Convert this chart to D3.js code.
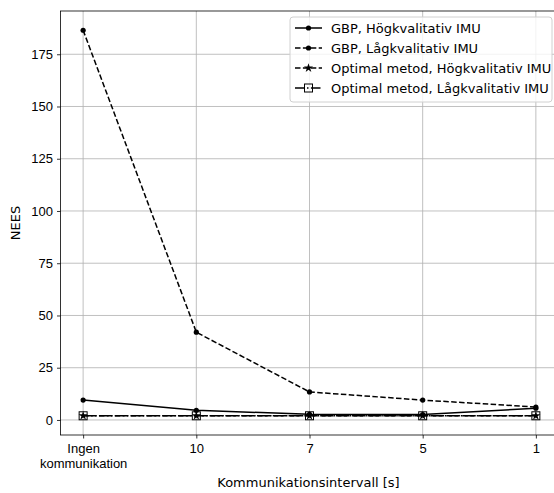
<!DOCTYPE html>
<html>
<head>
  <meta charset="utf-8">
  <title>NEES vs kommunikationsintervall</title>
  <style>
    body { margin: 0; background: #fff; }
    svg { display: block; font-family: "DejaVu Sans", sans-serif; }
    .grid line { stroke: #b0b0b0; stroke-width: 0.8px; }
    .tick text { font-size: 13px; fill: #000; }
  </style>
</head>
<body>
  <div id="chart"></div>

  <script src="https://d3js.org/d3.v7.min.js"></script>
  <script>
    // Data
    const categories = ["Ingen\nkommunikation", "10", "7", "5", "1"];
    const gbpHog = [9.5, 4.6, 2.7, 2.6, 5.6];
    const gbpLag = [186.5, 42, 13.4, 9.5, 6.2];
    const optHog = [2.0, 2.0, 2.0, 2.0, 2.0];
    const optLag = [2.0, 2.0, 2.0, 2.0, 2.0];
    const yTicks = [0, 25, 50, 75, 100, 125, 150, 175];

    const series = [
      { name: "GBP, Högkvalitativ IMU", values: gbpHog, dash: null, marker: "dot" },
      { name: "GBP, Lågkvalitativ IMU", values: gbpLag, dash: "5.5,2.4", marker: "dot" },
      { name: "Optimal metod, Högkvalitativ IMU", values: optHog, dash: "5.5,2.4", marker: "star" },
      { name: "Optimal metod, Lågkvalitativ IMU", values: optLag, dash: "9.6,2.4,1.5,2.4", marker: "square" }
    ];

    const width = 554, height = 493;
    const plot = { left: 60.5, right: 558.5, top: 11, bottom: 435 };

    const svg = d3.select("#chart").append("svg")
      .attr("width", width).attr("height", height);

    const x = d3.scaleLinear().domain([-0.2, 4.2]).range([plot.left, plot.right]);
    const y = d3.scaleLinear().domain([-7.2, 195.7]).range([plot.bottom, plot.top]);

    // grid
    const grid = svg.append("g").attr("class", "grid");
    grid.selectAll("line.v").data(categories).join("line")
      .attr("x1", (d, i) => x(i)).attr("x2", (d, i) => x(i))
      .attr("y1", plot.top).attr("y2", plot.bottom);
    grid.selectAll("line.h").data(yTicks).join("line")
      .attr("x1", plot.left).attr("x2", plot.right)
      .attr("y1", d => y(d)).attr("y2", d => y(d));

    // axes
    const xAxis = svg.append("g")
      .attr("transform", `translate(0,${plot.bottom})`)
      .call(d3.axisBottom(x).tickValues(d3.range(categories.length)).tickSize(3.5).tickPadding(4).tickFormat(""));
    xAxis.select(".domain").remove();
    xAxis.selectAll(".tick line").attr("stroke", "#000").attr("stroke-width", 0.8);
    xAxis.selectAll(".tick").each(function(d) {
      const lines = categories[d].split("\n");
      const t = d3.select(this).append("text")
        .attr("text-anchor", "middle").attr("fill", "#000")
        .style("font-size", "13px").attr("y", 18);
      lines.forEach((l, k) => t.append("tspan").attr("x", 0).attr("dy", k === 0 ? 0 : 15).text(l));
    });

    const yAxis = svg.append("g")
      .attr("transform", `translate(${plot.left},0)`)
      .call(d3.axisLeft(y).tickValues(yTicks).tickSize(3.5).tickPadding(4));
    yAxis.select(".domain").remove();
    yAxis.selectAll(".tick line").attr("stroke", "#000").attr("stroke-width", 0.8);

    // lines
    const line = d3.line().x((d, i) => x(i)).y(d => y(d));
    const g = svg.append("g");

    function drawMarker(sel, type, cx, cy) {
      if (type === "dot") {
        sel.append("circle").attr("cx", cx).attr("cy", cy).attr("r", 2.6).attr("fill", "#000");
      } else if (type === "star") {
        sel.append("path").attr("d", d3.symbol(d3.symbolStar, 26)())
          .attr("transform", `translate(${cx},${cy})`).attr("fill", "#000");
      } else {
        sel.append("rect").attr("x", cx - 4).attr("y", cy - 4).attr("width", 8).attr("height", 8)
          .attr("fill", "none").attr("stroke", "#000").attr("stroke-width", 1);
      }
    }

    series.forEach(s => {
      g.append("path").datum(s.values)
        .attr("d", line).attr("fill", "none").attr("stroke", "#000")
        .attr("stroke-width", 1.5).attr("stroke-dasharray", s.dash);
      s.values.forEach((v, i) => drawMarker(g, s.marker, x(i), y(v)));
    });

    // spines
    svg.append("rect")
      .attr("x", plot.left).attr("y", plot.top)
      .attr("width", plot.right - plot.left).attr("height", plot.bottom - plot.top)
      .attr("fill", "none").attr("stroke", "#000").attr("stroke-width", 0.8);

    // axis labels
    svg.append("text").attr("x", (plot.left + plot.right) / 2 - 1).attr("y", 487)
      .attr("text-anchor", "middle").style("font-size", "13px").text("Kommunikationsintervall [s]");
    svg.append("text").attr("transform", `translate(20,${(plot.top + plot.bottom) / 2}) rotate(-90)`)
      .attr("text-anchor", "middle").style("font-size", "13px").text("NEES");

    // legend
    const lg = svg.append("g").attr("transform", "translate(290,17)");
    lg.append("rect").attr("width", 262).attr("height", 85).attr("rx", 3)
      .attr("fill", "#fff").attr("fill-opacity", 0.8).attr("stroke", "#d0d0d0").attr("stroke-width", 1);
    series.forEach((s, i) => {
      const cy = 11 + i * 20;
      lg.append("line").attr("x1", 5).attr("x2", 32).attr("y1", cy).attr("y2", cy)
        .attr("stroke", "#000").attr("stroke-width", 1.5).attr("stroke-dasharray", s.dash);
      drawMarker(lg, s.marker, 18.5, cy);
      lg.append("text").attr("x", 41).attr("y", cy).attr("dy", "0.35em")
        .style("font-size", "13px").text(s.name);
    });
  </script>
</body>
</html>
